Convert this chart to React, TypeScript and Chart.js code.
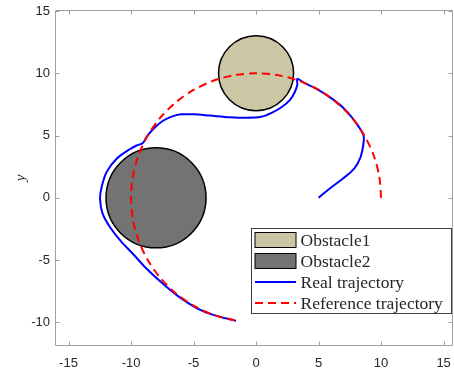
import React, { useEffect, useRef } from 'react';
import { Chart, registerables } from 'chart.js';

Chart.register(...registerables);

// ---- data ----
const realX = [5.0, 5.9, 6.95, 7.85, 8.35, 8.58, 8.6, 8.15, 7.2, 6.15, 4.85, 3.9, 3.3, 3.3, 3.1, 2.7, 2.0, 1.2, 0.4, -0.8, -2.1, -3.7, -5.0, -6.0, -6.8, -7.5, -8.2, -8.75, -9.05, -9.55, -10.1, -11.15, -11.95, -12.35, -12.48, -12.27, -11.69, -10.8, -9.8, -8.75, -7.45, -6.1, -4.76, -3.43, -1.6];
const realY = [0.0, 0.75, 1.55, 2.35, 3.25, 4.3, 5.0, 5.8, 7.0, 7.9, 8.75, 9.2, 9.55, 9.1, 8.5, 7.85, 7.25, 6.8, 6.5, 6.42, 6.47, 6.6, 6.7, 6.7, 6.5, 6.15, 5.55, 4.9, 4.4, 4.2, 3.9, 3.14, 2.07, 0.87, -0.07, -1.27, -2.34, -3.5, -4.55, -5.7, -6.9, -8.0, -8.85, -9.4, -9.88];

const refX = [10, 9.85, 9.4, 8.66, 7.66, 6.43, 5.0, 3.42, 1.74, 0, -1.74, -3.42, -5.0, -6.43, -7.66, -8.66, -9.4, -9.85, -10, -9.85, -9.4, -8.66, -7.66, -6.43, -5.0, -3.42, -1.7];
const refY = [0, 1.74, 3.42, 5.0, 6.43, 7.66, 8.66, 9.4, 9.85, 10, 9.85, 9.4, 8.66, 7.66, 6.43, 5.0, 3.42, 1.74, 0, -1.74, -3.42, -5.0, -6.43, -7.66, -8.66, -9.4, -9.85];

const obstacleLabels = ['Obstacle1', 'Obstacle2'];
const obstacleCX = [0, -8];
const obstacleCY = [10, 0];
const obstacleR = [3, 4];
const obstacleColors = ['#cbc7a5', '#737373'];

const lineLabels = ['Real trajectory', 'Reference trajectory'];

const X_MIN = -16;
const X_MAX = 15.75;
const Y_MIN = -11.9;
const Y_MAX = 15.08;
const TICK_STEP = 5;

const AXIS_COLOR = '#a0a0a0';
const TEXT_COLOR = '#262626';

const framePlugin = {
  id: 'frameTicks',
  afterDraw(chart: any) {
    const { ctx, chartArea: a, scales } = chart;
    ctx.save();
    ctx.strokeStyle = AXIS_COLOR;
    ctx.lineWidth = 1;
    const L = Math.round(a.left) - 0.5;
    const R = Math.round(a.right) - 0.5;
    const T = Math.round(a.top) + 0.5;
    const B = Math.round(a.bottom) - 0.5;
    ctx.beginPath();
    ctx.rect(L, T, R - L, B - T);
    ctx.stroke();
    const tl = 4;
    ctx.beginPath();
    for (const t of scales.x.ticks) {
      const px = Math.round(scales.x.getPixelForValue(t.value)) + 0.5;
      ctx.moveTo(px, B); ctx.lineTo(px, B - tl);
      ctx.moveTo(px, T); ctx.lineTo(px, T + tl);
    }
    for (const t of scales.y.ticks) {
      const py = Math.round(scales.y.getPixelForValue(t.value)) + 0.5;
      ctx.moveTo(L, py); ctx.lineTo(L + tl, py);
      ctx.moveTo(R, py); ctx.lineTo(R - tl, py);
    }
    ctx.stroke();
    ctx.restore();
  },
};

const legendPlugin = {
  id: 'boxLegend',
  afterDraw(chart: any) {
    const { ctx, chartArea: a } = chart;
    const ds = chart.data.datasets;
    const items = [ds[2], ds[3], ds[0], ds[1]];
    const w = 200;
    const h = 85;
    const x0 = Math.round(a.right - 2.5 - w) + 0.5;
    const y0 = Math.round(a.bottom - 33.5 - h) + 0.5;
    ctx.save();
    ctx.fillStyle = '#ffffff';
    ctx.fillRect(x0, y0, w, h);
    ctx.strokeStyle = '#404040';
    ctx.lineWidth = 1;
    ctx.strokeRect(x0, y0, w, h);
    const rowH = 21;
    const sx = x0 + 3.5;
    const sw = 41;
    ctx.font = '17.5px "Liberation Serif", "Times New Roman", serif';
    ctx.textBaseline = 'middle';
    ctx.textAlign = 'left';
    items.forEach((d: any, i: number) => {
      const cy = y0 + 11.5 + i * rowH;
      if (d.isObstacle) {
        ctx.fillStyle = d.pointBackgroundColor;
        ctx.fillRect(sx, cy - 7.5, sw, 15);
        ctx.strokeStyle = '#000000';
        ctx.lineWidth = 1;
        ctx.strokeRect(sx, cy - 7.5, sw, 15);
      } else {
        ctx.strokeStyle = d.borderColor;
        ctx.lineWidth = d.borderWidth;
        ctx.setLineDash(d.borderDash || []);
        ctx.beginPath();
        ctx.moveTo(sx, cy);
        ctx.lineTo(sx + sw, cy);
        ctx.stroke();
        ctx.setLineDash([]);
      }
      ctx.fillStyle = TEXT_COLOR;
      ctx.fillText(d.label, x0 + 49, cy + 1);
    });
    ctx.restore();
  },
};

function radiusPx(r: number) {
  return (c: any) => {
    const sx = c.chart.scales.x;
    if (!sx) return 0;
    return Math.abs(sx.getPixelForValue(r) - sx.getPixelForValue(0));
  };
}

export default function App() {
  const canvasRef = useRef<HTMLCanvasElement | null>(null);

  useEffect(() => {
    const canvas = canvasRef.current;
    if (!canvas) return;

    const obstacleSets = obstacleLabels.map((label, i) => ({
      type: 'scatter' as const,
      label,
      isObstacle: true,
      data: [{ x: obstacleCX[i], y: obstacleCY[i] }],
      pointRadius: radiusPx(obstacleR[i]),
      pointHoverRadius: radiusPx(obstacleR[i]),
      pointBackgroundColor: obstacleColors[i],
      pointBorderColor: '#000000',
      pointBorderWidth: 1.5,
      pointHoverBorderWidth: 1.5,
      showLine: false,
      order: 2,
    }));

    const chart = new Chart(canvas, {
      type: 'scatter',
      data: {
        datasets: [
          {
            label: lineLabels[0],
            data: realX.map((x, i) => ({ x, y: realY[i] })),
            showLine: true,
            borderColor: '#0000ff',
            borderWidth: 2,
            pointRadius: 0,
            tension: 0.3,
            fill: false,
            order: 1,
          } as any,
          {
            label: lineLabels[1],
            data: refX.map((x, i) => ({ x, y: refY[i] })),
            showLine: true,
            borderColor: '#ff0000',
            borderWidth: 2,
            borderDash: [8, 5],
            pointRadius: 0,
            tension: 0.3,
            fill: false,
            order: 0,
          } as any,
          ...(obstacleSets as any[]),
        ],
      },
      options: {
        animation: false,
        responsive: false,
        events: [],
        layout: { padding: { left: 0, top: 10, right: 1, bottom: 0 } },
        plugins: {
          legend: { display: false },
          tooltip: { enabled: false },
        },
        scales: {
          x: {
            type: 'linear',
            min: X_MIN,
            max: X_MAX,
            grid: { display: false, drawTicks: false },
            border: { display: false },
            ticks: {
              stepSize: TICK_STEP,
              includeBounds: false,
              padding: 10,
              color: TEXT_COLOR,
              font: { family: '"Liberation Sans", Arial, sans-serif', size: 13 },
              maxRotation: 0,
            },
            afterFit: (s: any) => {
              s.height = 28;
              s.paddingLeft = 0;
              s.paddingRight = 0;
            },
          },
          y: {
            type: 'linear',
            min: Y_MIN,
            max: Y_MAX,
            grid: { display: false, drawTicks: false },
            border: { display: false },
            ticks: {
              stepSize: TICK_STEP,
              includeBounds: false,
              padding: 6,
              color: TEXT_COLOR,
              font: { family: '"Liberation Sans", Arial, sans-serif', size: 13 },
            },
            title: {
              display: true,
              text: 'y',
              color: TEXT_COLOR,
              padding: { top: 12, bottom: 0 },
              font: { family: '"Liberation Serif", "Times New Roman", serif', style: 'italic', size: 15 },
            },
            afterFit: (s: any) => {
              s.width = 56;
              s.paddingTop = 0;
              s.paddingBottom = 0;
            },
          },
        },
      },
      plugins: [framePlugin, legendPlugin],
    } as any);

    return () => chart.destroy();
  }, []);

  return (
    <div style={{ position: 'absolute', left: 0, top: 0, width: 454, height: 374, background: '#ffffff' }}>
      <canvas ref={canvasRef} width={454} height={374} style={{ display: 'block' }} />
    </div>
  );
}
